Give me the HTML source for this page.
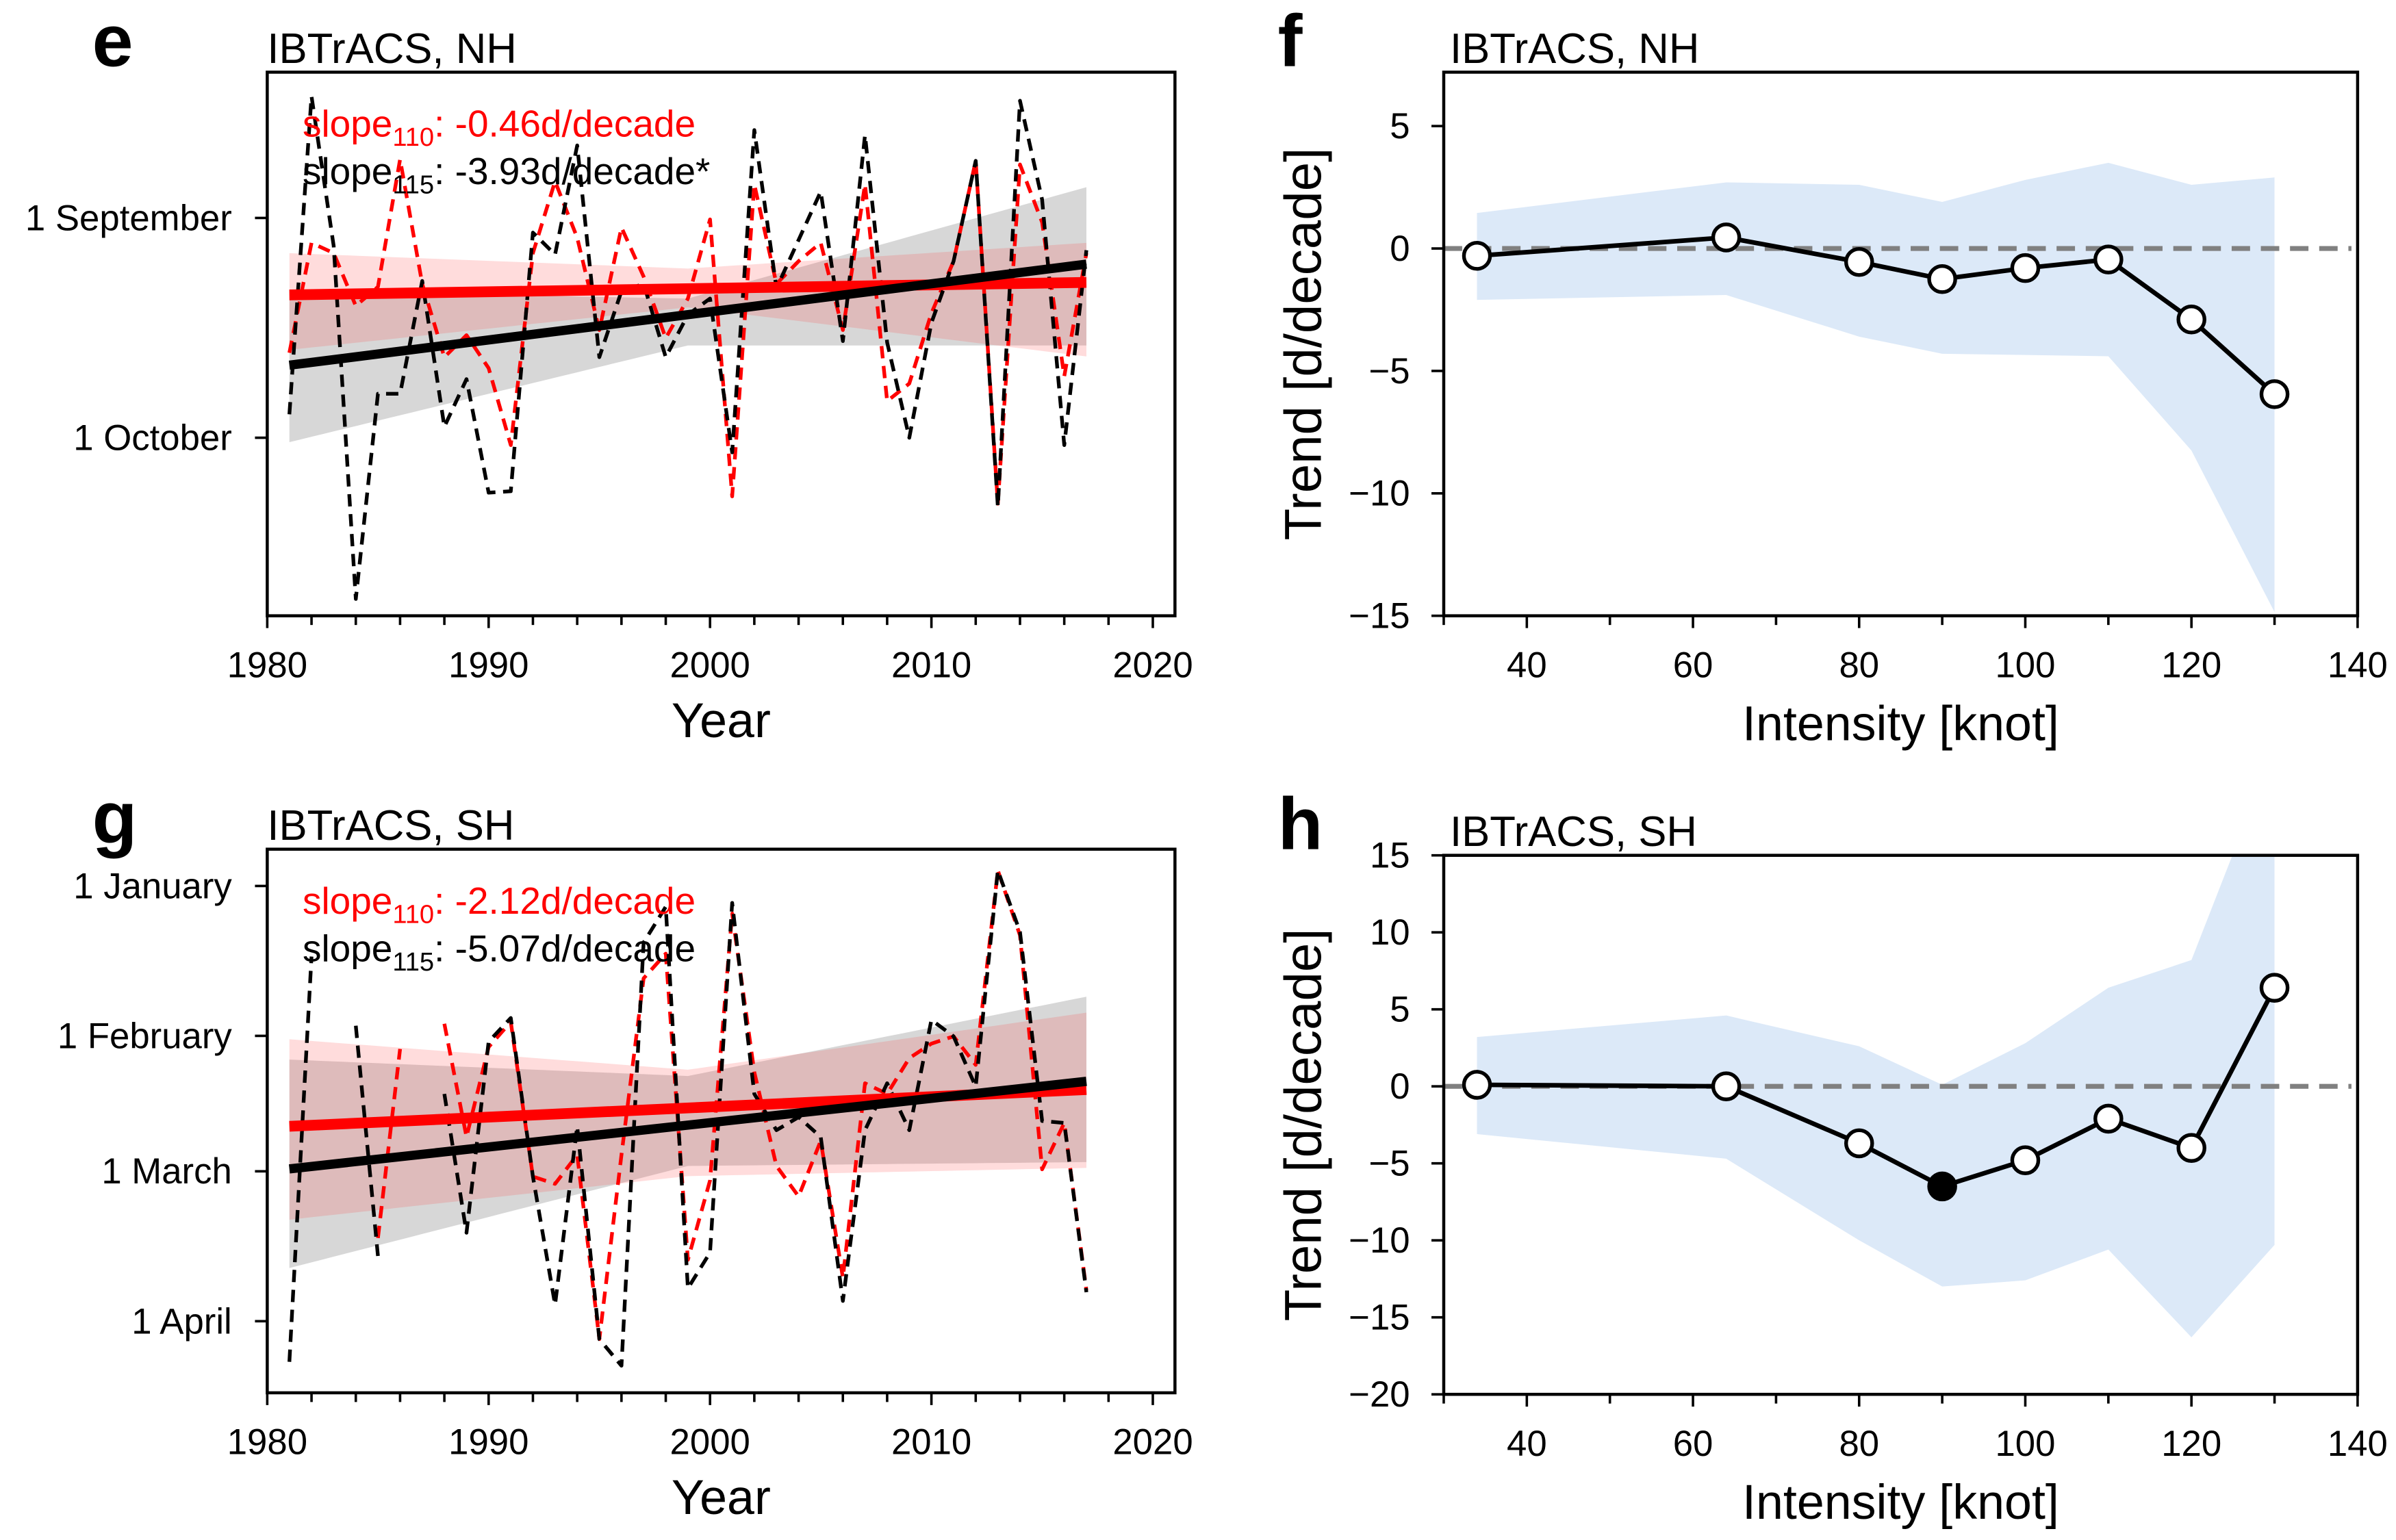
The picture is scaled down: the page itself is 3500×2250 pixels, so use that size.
<!DOCTYPE html>
<html><head><meta charset="utf-8">
<style>
html,body{margin:0;padding:0;background:#fff;}
svg{display:block;font-family:"Liberation Sans",Arial,sans-serif;}
</style></head>
<body>
<svg id="fig" width="3500" height="2250" viewBox="0 0 1560 1002.86" preserveAspectRatio="none" xmlns="http://www.w3.org/2000/svg"></svg>
<script>
// ---------- Panel e data (days after 1 September) ----------
const yearsE = []; for (let y = 1981; y <= 2017; y++) yearsE.push(y);
const e110 = [18.4,3.4,4.8,12,9.4,-8,9,19,16,20.5,31,4.8,-5,2.7,15.3,1.3,8,16.4,11,0.2,38,-4.6,9,5.9,3.4,15.3,-4.6,25,22.6,13,5.9,-7.8,39,-7.3,0.6,21.6,4.8];
const e115 = [26.8,-16.6,3.8,52,24,24,8.6,28.5,22,37.5,37.3,2,5,-9.9,19,10,9,19,13.2,11,32,-12,9.6,3,-3.6,16.8,-11.3,17,30,14.3,5.9,-7.8,39.4,-16,-2.5,31,4.4];
const eTrend110 = [10.5, 8.8];
const eTrend115 = [20.1, 6.3];
const eBandYears = [1981, 1999, 2017];
const eBand110Lo = [4.8, 6.9, 3.4], eBand110Hi = [18, 12.2, 18.9];
const eBand115Lo = [10, 11, -4.2], eBand115Hi = [30.6, 17.4, 17.4];
const eTickVals = [0, 30], eTickLabels = ["1 September", "1 October"];
// ---------- Panel g data (days after 1 January) ----------
const yearsG = yearsE.slice();
const N = NaN;
const g110 = [N,N,N,N,72.8,33.7,N,28.5,51.9,33.3,28.1,60.1,61.6,55.6,93.7,55.6,19.1,14,77.3,60.9,5.7,38.5,57.9,64.2,52.7,81,40.8,43,35.6,32.6,31.1,37,-3.2,10.2,58.6,49,83.6];
const g115 = [98.4,14.6,N,28.9,76.5,N,N,43,71.7,32.2,27.3,60.1,86.6,49.7,93.7,99.2,11.7,4.3,83.2,75.8,3.5,43,50.5,47.8,51.9,85.8,50.5,40.8,50.5,27.7,31.1,41.5,-3.2,9.5,48.6,49,84];
const gTrend110 = [49.7, 42.1];
const gTrend115 = [58.5, 40.4];
const gBand110Lo = [31.7, 38, 26.2], gBand110Hi = [69, 60, 58.3];
const gBand115Lo = [35.9, 39.3, 22.9], gBand115Hi = [79, 57.9, 57.1];
const gTickVals = [0, 31, 59, 90], gTickLabels = ["1 January", "1 February", "1 March", "1 April"];
const yearTicks = [1980, 1990, 2000, 2010, 2020];
// ---------- Panels f, h ----------
const intens = [34,64,80,90,100,110,120,130];
const fTrend = [-0.3,0.45,-0.55,-1.25,-0.8,-0.45,-2.9,-5.95];
const fHi = [1.45,2.7,2.6,1.9,2.8,3.5,2.6,2.9];
const fLo = [-2.1,-1.9,-3.6,-4.3,-4.35,-4.4,-8.25,-14.85];
const fSig = [0,0,0,0,0,0,0,0];
const fTicks = [5,0,-5,-10,-15];
const hTrend = [0.1,0,-3.7,-6.5,-4.8,-2.1,-4.0,6.4];
const hHi = [3.2,4.6,2.6,0.1,2.8,6.4,8.2,22];
const hLo = [-3.1,-4.7,-10,-13,-12.6,-10.6,-16.3,-10.3];
const hSig = [0,0,0,1,0,0,0,0];
const hTicks = [15,10,5,0,-5,-10,-15,-20];
const intTicks = [40,60,80,100,120,140];

const TICK_FS = 23.5, TITLE_FS = 27.5, XLAB_FS = 32, YLAB_FS = 34, SLOPE_FS = 24.5, LETTER_FS = 48;

const NS = "http://www.w3.org/2000/svg";
const svg = document.getElementById('fig');
function el(tag, attrs, parent) {
  const e = document.createElementNS(NS, tag);
  for (const k in attrs) e.setAttribute(k, attrs[k]);
  (parent || svg).appendChild(e);
  return e;
}
function txt(s, x, y, size, opts, parent) {
  const t = el('text', Object.assign({x: x, y: y, 'font-size': size, fill: '#000'}, opts || {}), parent);
  t.textContent = s;
  return t;
}
function lin(d0, d1, r0, r1) { return v => r0 + (v - d0) / (d1 - d0) * (r1 - r0); }
function interp(xs, ys, x) {
  for (let i = 0; i < xs.length - 1; i++) if (x <= xs[i+1]) return ys[i] + (ys[i+1]-ys[i])*(x-xs[i])/(xs[i+1]-xs[i]);
  return ys[ys.length-1];
}
function frame(g, L, T, R, B) {
  const r = el('rect', {x: L, y: T, width: R-L, height: B-T, fill: 'none', stroke: '#000', 'stroke-width': 2}, g);
  
  
}

// ---------- time-series panel ----------
function tsPanel(name, letter, title, L, T, R, B, ymin, ymax, tickVals, tickLabels, years, s110, s115, tr110, tr115, b110Lo, b110Hi, b115Lo, b115Hi, slope110, slope115) {
  const g = el('g', {});
  
  
  const X = lin(1980, 2021, L, R);
  const Y = lin(ymin, ymax, T, B);
  const clipId = name + '-clip';
  const cp = el('clipPath', {id: clipId}, g);
  el('rect', {x: L, y: T, width: R-L, height: B-T}, cp);
  const pg = el('g', {'clip-path': 'url(#' + clipId + ')'}, g);
  function band(lo, hi, fill, nm) {
    const pts = [];
    for (let y = 1981; y <= 2017; y += 0.5) pts.push(X(y) + ',' + Y(interp(eBandYears, hi, y)));
    for (let y = 2017; y >= 1981; y -= 0.5) pts.push(X(y) + ',' + Y(interp(eBandYears, lo, y)));
    const p = el('polygon', {points: pts.join(' '), fill: fill}, pg);
    
    
  }
  band(b115Lo, b115Hi, 'rgba(150,150,150,0.38)', 'confidence-band-115');
  band(b110Lo, b110Hi, 'rgba(255,60,60,0.18)', 'confidence-band-110');
  function series(vals, color, nm) {
    let d = '', pen = false;
    vals.forEach((v, i) => {
      if (isNaN(v)) { pen = false; return; }
      d += (pen ? 'L' : 'M') + X(years[i]) + ' ' + Y(v) + ' ';
      pen = true;
    });
    const p = el('path', {d: d, fill: 'none', stroke: color, 'stroke-width': 2.4, 'stroke-dasharray': '8 5', 'stroke-linejoin': 'round'}, pg);
    
    
  }
  series(s110, '#ff0000', 'series-110-kt');
  series(s115, '#000000', 'series-115-kt');
  function trend(v, color, w, nm) {
    const p = el('line', {x1: X(1981), y1: Y(v[0]), x2: X(2017), y2: Y(v[1]), stroke: color, 'stroke-width': w}, pg);
    
    
  }
  trend(tr110, '#ff0000', 7, 'trend-line-110');
  trend(tr115, '#000000', 6, 'trend-line-115');
  frame(g, L, T, R, B);
  for (let y = 1980; y <= 2020; y += 2) {
    const major = (y % 10 === 0);
    el('line', {x1: X(y), y1: B, x2: X(y), y2: B + (major ? 8 : 6), stroke: '#000', 'stroke-width': 1.6}, g);
  }
  yearTicks.forEach(y => {
    const t = txt(String(y), X(y), B + 40, TICK_FS, {'text-anchor': 'middle'}, g);
    
    
  });
  tickVals.forEach((v, i) => {
    el('line', {x1: L - 8, y1: Y(v), x2: L, y2: Y(v), stroke: '#000', 'stroke-width': 1.6}, g);
    const t = txt(tickLabels[i], L - 23, Y(v) + 8, TICK_FS, {'text-anchor': 'end'}, g);
    
    
  });
  const xl = txt('Year', (L + R) / 2, B + 79, XLAB_FS, {'text-anchor': 'middle'}, g);
  
  
  const pl = txt(letter, 60, T - 4, LETTER_FS, {'font-weight': 'bold'}, g);
  
  
  const ti = txt(title, L, T - 6, TITLE_FS, {}, g);
  
  
  function slopeText(sub, val, color, yy, nm) {
    const t = el('text', {x: L + 23, y: yy, 'font-size': SLOPE_FS, fill: color}, g);
    
    
    const a = el('tspan', {}, t); a.textContent = 'slope';
    const b = el('tspan', {dy: 6, 'font-size': 17}, t); b.textContent = sub;
    const c = el('tspan', {dy: -6}, t); c.textContent = ': ' + val;
  }
  slopeText('110', slope110, '#ff0000', T + 42, 'slope-label-110');
  slopeText('115', slope115, '#000000', T + 73, 'slope-label-115');
}

// ---------- intensity panel ----------
function intPanel(name, letter, title, L, T, R, B, ymin, ymax, ticks, trendV, hi, lo, sig) {
  const g = el('g', {});
  
  
  const X = lin(30, 140, L, R);
  const Y = lin(ymax, ymin, T, B);
  const clipId = name + '-clip';
  const cp = el('clipPath', {id: clipId}, g);
  el('rect', {x: L, y: T, width: R-L, height: B-T}, cp);
  const pg = el('g', {'clip-path': 'url(#' + clipId + ')'}, g);
  const pts = [];
  intens.forEach((k, i) => pts.push(X(k) + ',' + Y(hi[i])));
  for (let i = intens.length - 1; i >= 0; i--) pts.push(X(intens[i]) + ',' + Y(lo[i]));
  const band = el('polygon', {points: pts.join(' '), fill: '#dce9f8'}, pg);
  
  
  const zl = el('line', {x1: L, y1: Y(0), x2: R - 4, y2: Y(0), stroke: '#808080', 'stroke-width': 3.2, 'stroke-dasharray': '12 7'}, pg);
  
  
  const ln = el('polyline', {points: intens.map((k, i) => X(k) + ',' + Y(trendV[i])).join(' '), fill: 'none', stroke: '#000', 'stroke-width': 3}, pg);
  
  
  intens.forEach((k, i) => {
    const c = el('circle', {cx: X(k), cy: Y(trendV[i]), r: 8.5, fill: sig[i] ? '#000' : '#fff', stroke: '#000', 'stroke-width': 2.4}, g);
    
    
  });
  frame(g, L, T, R, B);
  for (let k = 30; k <= 140; k += 10) {
    const major = (k % 20 === 0);
    el('line', {x1: X(k), y1: B, x2: X(k), y2: B + (major ? 8 : 6), stroke: '#000', 'stroke-width': 1.6}, g);
  }
  intTicks.forEach(k => {
    const t = txt(String(k), X(k), B + 40, TICK_FS, {'text-anchor': 'middle'}, g);
    
    
  });
  ticks.forEach(v => {
    el('line', {x1: L - 8, y1: Y(v), x2: L, y2: Y(v), stroke: '#000', 'stroke-width': 1.6}, g);
    const t = txt(v < 0 ? '\u2212' + Math.abs(v) : String(v), L - 22, Y(v) + 8, TICK_FS, {'text-anchor': 'end'}, g);
    
    
  });
  const xl = txt('Intensity [knot]', (L + R) / 2, B + 81, XLAB_FS, {'text-anchor': 'middle'}, g);
  
  
  const yc = (T + B) / 2;
  const yl = txt('Trend [d/decade]', 860, yc, YLAB_FS, {'text-anchor': 'middle', transform: 'rotate(-90 860 ' + yc + ')'}, g);
  
  
  const pl = txt(letter, 832, T - 4, LETTER_FS, {'font-weight': 'bold'}, g);
  
  
  const ti = txt(title, 944, T - 6, TITLE_FS, {}, g);
  
  
}

tsPanel('panel-e', 'e', 'IBTrACS, NH', 174, 47, 765, 401, -19.9, 54.3, eTickVals, eTickLabels, yearsE, e110, e115, eTrend110, eTrend115, eBand110Lo, eBand110Hi, eBand115Lo, eBand115Hi, '-0.46d/decade', '-3.93d/decade*');
tsPanel('panel-g', 'g', 'IBTrACS, SH', 174, 553, 765, 907, -7.6, 104.8, gTickVals, gTickLabels, yearsG, g110, g115, gTrend110, gTrend115, gBand110Lo, gBand110Hi, gBand115Lo, gBand115Hi, '-2.12d/decade', '-5.07d/decade');
intPanel('panel-f', 'f', 'IBTrACS, NH', 940, 47, 1535, 401, -15, 7.2, fTicks, fTrend, fHi, fLo, fSig);
intPanel('panel-h', 'h', 'IBTrACS, SH', 940, 557, 1535, 908, -20, 15, hTicks, hTrend, hHi, hLo, hSig);
</script>
</body></html>
